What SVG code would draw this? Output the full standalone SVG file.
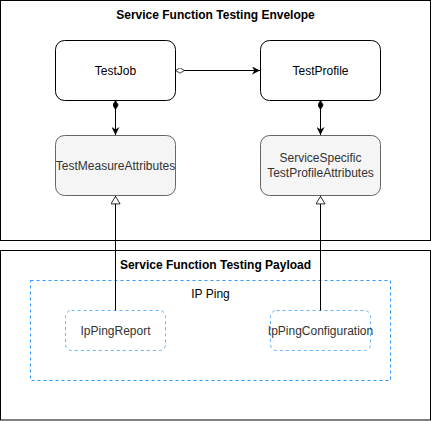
<svg xmlns="http://www.w3.org/2000/svg" width="431" height="421" viewBox="0 0 431 421">
<style>
text{font-family:"Liberation Sans",Arial,sans-serif;font-size:12px;fill:#000;text-anchor:middle;dominant-baseline:central}
.title{font-weight:bold}
.cont{fill:#fff;stroke:#000;stroke-width:1}
.node{fill:#fff;stroke:#000;stroke-width:1}
.attr{fill:#f5f5f5;stroke:#666;stroke-width:1}
.grp{fill:none;stroke:#3399ff;stroke-width:1;stroke-dasharray:3 3}
.sub{fill:#fff;stroke:#66b2ff;stroke-width:1;stroke-dasharray:3 3}
.edge{fill:none;stroke:#000;stroke-width:1}
.attrtxt{fill:#333}
</style>
<defs>
<marker id="arrow" viewBox="0 0 10 10" refX="10" refY="5" markerWidth="8" markerHeight="8" markerUnits="userSpaceOnUse" orient="auto"><path d="M0,0 L10,5 L0,10 L3,5 Z" fill="#000"/></marker>
<marker id="odiamond" viewBox="0 0 12 8" refX="0" refY="4" markerWidth="9" markerHeight="6" markerUnits="userSpaceOnUse" orient="auto"><path d="M0,4 L6,0.5 L12,4 L6,7.5 Z" fill="#fff" stroke="#000" stroke-width="1"/></marker>
<marker id="fdiamond" viewBox="0 0 12 8" refX="0" refY="4" markerWidth="9" markerHeight="6" markerUnits="userSpaceOnUse" orient="auto"><path d="M0,4 L6,0.5 L12,4 L6,7.5 Z" fill="#000" stroke="#000" stroke-width="1"/></marker>
<marker id="otri" viewBox="0 0 10 12" refX="10" refY="6" markerWidth="9" markerHeight="10" markerUnits="userSpaceOnUse" orient="auto"><path d="M0.5,0.5 L9.5,6 L0.5,11.5 Z" fill="#fff" stroke="#000" stroke-width="1"/></marker>
</defs>
<g id="envelope"><rect class="cont" x="0.5" y="0.5" width="430" height="240"/><text class="title" x="215.5" y="14.5">Service Function Testing Envelope</text></g>
<g id="payload"><rect class="cont" x="0.5" y="250.5" width="430" height="169.5"/><text class="title" x="215.5" y="264.5">Service Function Testing Payload</text></g>
<g id="ipping"><rect class="grp" x="30.5" y="280.5" width="360" height="100"/><text x="210.5" y="294">IP Ping</text></g>
<g id="testjob"><rect class="node" x="55.5" y="40.5" width="120" height="60" rx="9"/><text x="115.5" y="70.5">TestJob</text></g>
<g id="testprofile"><rect class="node" x="260.5" y="40.5" width="120" height="60" rx="9"/><text x="320.5" y="70.5">TestProfile</text></g>
<g id="testmeasure"><rect class="attr" x="55.5" y="135.5" width="120" height="60" rx="9"/><text class="attrtxt" x="115.5" y="165.5">TestMeasureAttributes</text></g>
<g id="servicespecific"><rect class="attr" x="260.5" y="135.5" width="120" height="60" rx="9"/><text class="attrtxt" x="320.5" y="158">ServiceSpecific</text><text class="attrtxt" x="320.5" y="173">TestProfileAttributes</text></g>
<g id="ippingreport"><rect class="sub" x="65.5" y="310.5" width="100" height="40" rx="6"/><text class="attrtxt" x="115.5" y="330.5">IpPingReport</text></g>
<g id="ippingconfig"><rect class="sub" x="270.5" y="310.5" width="100" height="40" rx="6"/><text class="attrtxt" x="320.5" y="330.5">IpPingConfiguration</text></g>
<g id="connectors">
<path class="edge" d="M175.5,70.5 L260,70.5" marker-start="url(#odiamond)" marker-end="url(#arrow)"/>
<path class="edge" d="M115.5,100.5 L115.5,135" marker-start="url(#fdiamond)" marker-end="url(#arrow)"/>
<path class="edge" d="M320.5,100.5 L320.5,135" marker-start="url(#fdiamond)" marker-end="url(#arrow)"/>
<path class="edge" d="M115.5,310.5 L115.5,196" marker-end="url(#otri)"/>
<path class="edge" d="M320.5,310.5 L320.5,196" marker-end="url(#otri)"/>
</g>
</svg>
